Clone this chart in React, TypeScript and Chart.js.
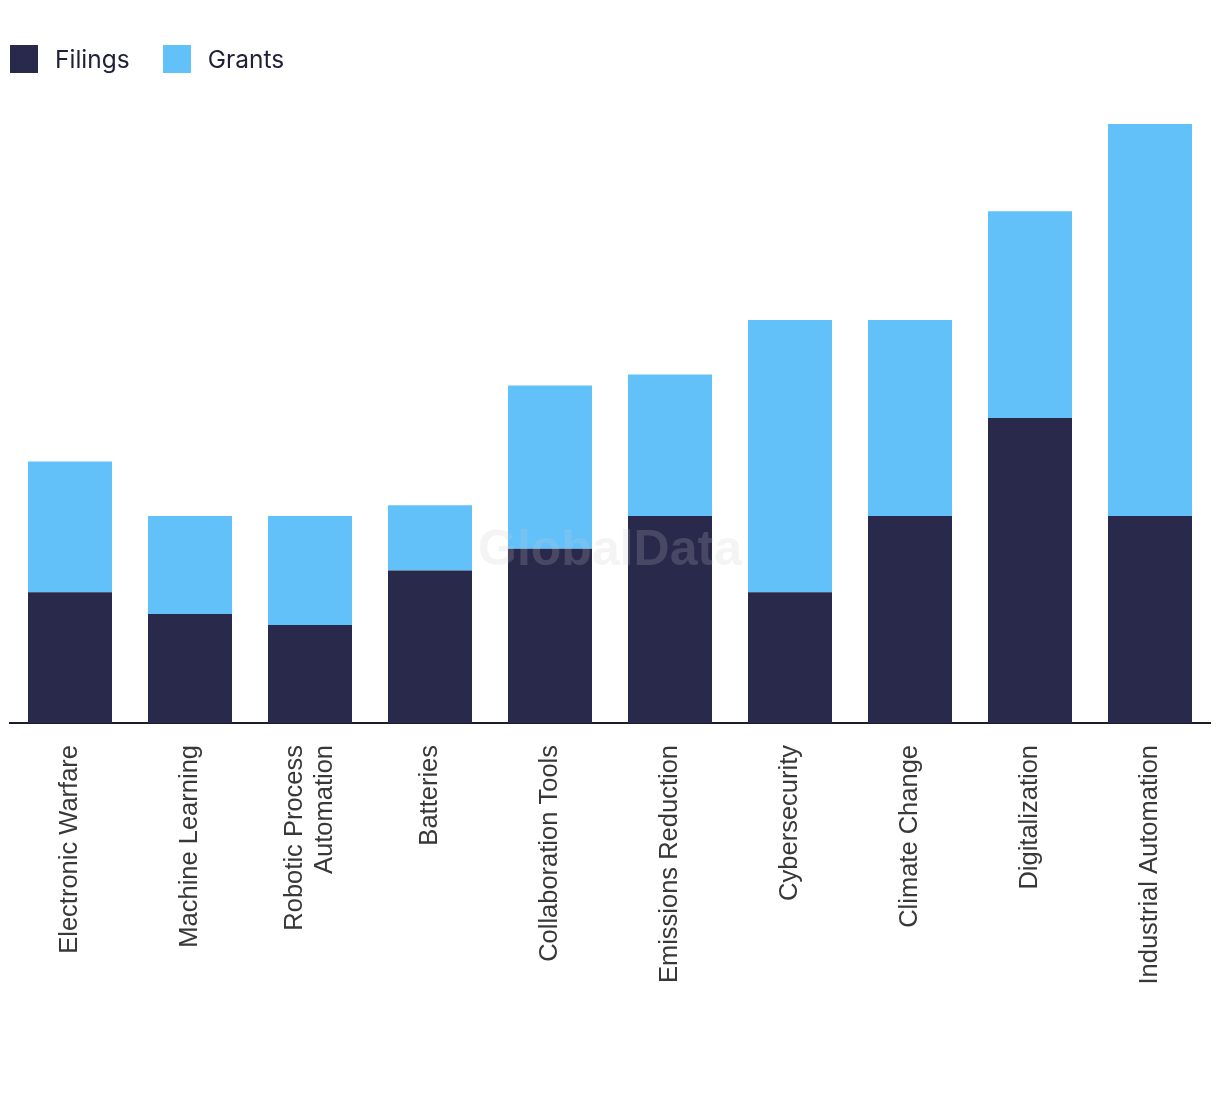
import React, { useEffect, useRef } from "react";
import { Chart, registerables } from "chart.js";

Chart.register(...registerables);

const categories: string[][] = [
  ["Electronic Warfare"],
  ["Machine Learning"],
  ["Robotic Process", "Automation"],
  ["Batteries"],
  ["Collaboration Tools"],
  ["Emissions Reduction"],
  ["Cybersecurity"],
  ["Climate Change"],
  ["Digitalization"],
  ["Industrial Automation"],
];
const filings: number[] = [12, 10, 9, 14, 16, 19, 12, 19, 28, 19];
const grants: number[] = [12, 9, 10, 6, 15, 13, 25, 18, 19, 36];
const seriesNames: string[] = ["Filings", "Grants"];
const seriesColors: string[] = ["#28294B", "#62C1F9"];

const LABEL_FONT = "25.5px 'Liberation Sans', Arial, sans-serif";

const labelPlugin = {
  id: "rotatedLabels",
  afterDraw(chart: any) {
    const ctx = chart.ctx;
    const xs = chart.scales.x;
    const top = chart.chartArea.bottom + 22;
    ctx.save();
    ctx.font = LABEL_FONT;
    ctx.fillStyle = "#383838";
    ctx.textAlign = "right";
    ctx.textBaseline = "middle";
    categories.forEach((lines, i) => {
      const x = xs.getPixelForValue(i);
      ctx.save();
      ctx.translate(x, top);
      ctx.rotate(-Math.PI / 2);
      const n = lines.length;
      lines.forEach((line, j) => {
        ctx.fillText(line, 0, (j - (n - 1) / 2) * 30);
      });
      ctx.restore();
    });
    ctx.restore();
  },
};

const watermarkPlugin = {
  id: "watermark",
  afterDatasetsDraw(chart: any) {
    const ctx = chart.ctx;
    ctx.save();
    ctx.font = "bold 50px 'Liberation Sans', Arial, sans-serif";
    ctx.fillStyle = "rgba(200,200,205,0.2)";
    ctx.textAlign = "center";
    ctx.textBaseline = "alphabetic";
    ctx.fillText("GlobalData", 610, 565);
    ctx.restore();
  },
};

export default function App() {
  const canvasRef = useRef<HTMLCanvasElement | null>(null);

  useEffect(() => {
    document.body.style.margin = "0";
    const canvas = canvasRef.current;
    if (!canvas) return;
    const chart = new Chart(canvas, {
      type: "bar",
      data: {
        labels: categories.map((c) => c.join(" ")),
        datasets: [
          {
            label: seriesNames[0],
            data: filings,
            backgroundColor: seriesColors[0],
            barPercentage: 0.7,
            categoryPercentage: 1,
          },
          {
            label: seriesNames[1],
            data: grants,
            backgroundColor: seriesColors[1],
            barPercentage: 0.7,
            categoryPercentage: 1,
          },
        ],
      },
      options: {
        animation: false,
        responsive: false,
        maintainAspectRatio: false,
        layout: { padding: { left: 10, right: 10, top: 124, bottom: 371 } },
        plugins: {
          legend: { display: false },
          tooltip: { enabled: false },
        },
        scales: {
          x: {
            stacked: true,
            grid: { display: false, drawTicks: false },
            ticks: { display: false },
            border: { display: true, color: "#1B1B2F", width: 2 },
          },
          y: {
            stacked: true,
            display: false,
            min: 0,
            max: 55,
          },
        },
      },
      plugins: [watermarkPlugin, labelPlugin],
    });
    return () => chart.destroy();
  }, []);

  return (
    <div style={{ position: "relative", width: 1220, height: 1094, background: "#fff" }}>
      <div
        style={{
          position: "absolute",
          left: 10,
          top: 45,
          display: "flex",
          alignItems: "center",
          fontFamily: "Inter, 'Open Sans', sans-serif",
          fontSize: 24.5,
          color: "#1F1F3A",
        }}
      >
        {seriesNames.map((name, i) => (
          <div key={name} style={{ display: "flex", alignItems: "center", marginRight: 33 }}>
            <span
              style={{
                display: "inline-block",
                width: 28,
                height: 28,
                background: seriesColors[i],
                marginRight: 17,
              }}
            />
            <span style={{ lineHeight: "28px" }}>{name}</span>
          </div>
        ))}
      </div>
      <canvas ref={canvasRef} width={1220} height={1094} style={{ display: "block" }} />
    </div>
  );
}
